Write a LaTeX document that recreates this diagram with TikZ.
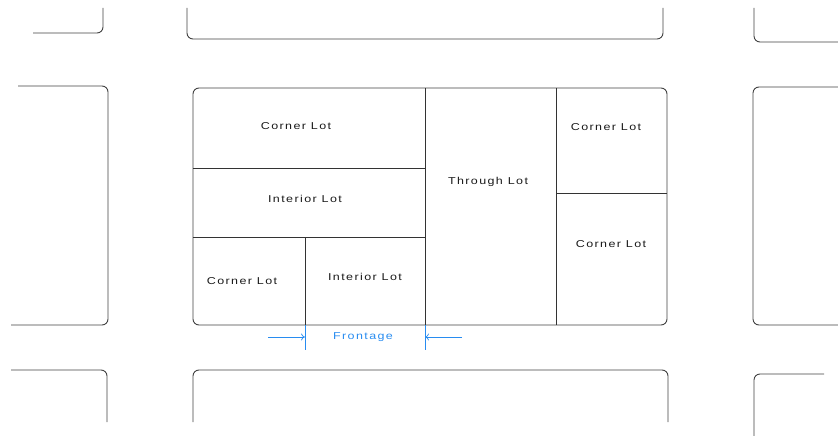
\documentclass[tikz,border=0pt]{standalone}
\usepackage{fontspec}
\usetikzlibrary{arrows.meta}
\setmainfont{Liberation Sans}[FakeStretch=1.25,LetterSpace=14]
\definecolor{dimblue}{RGB}{40,140,240}
\begin{document}
\begin{tikzpicture}[x=1pt,y=-1pt,
  street/.style={draw=black!75,line width=0.9pt,rounded corners=6pt},
  lotline/.style={draw=black!80,line width=0.9pt},
  lotlabel/.style={font=\fontsize{10}{12}\selectfont,text=black!90,inner sep=0pt},
  dim/.style={draw=dimblue,line width=0.7pt},
  dimlabel/.style={font=\fontsize{10}{12}\selectfont,text=dimblue,inner sep=0pt}]
\useasboundingbox (0,0) rectangle (838,436);
% surrounding blocks
\draw[street] (103,8) -- (103,33) -- (33,33);
\draw[street] (187,8) -- (187,39) -- (663,39) -- (663,8);
\draw[street] (754,8) -- (754,42) -- (838,42);
\draw[street] (18,86) -- (108,86) -- (108,325) -- (11,325);
\draw[street] (838,87) -- (753,87) -- (753,325) -- (838,325);
\draw[street] (11,370) -- (107,370) -- (107,422);
\draw[street] (193,422) -- (193,370) -- (668,370) -- (668,422);
\draw[street] (824,374) -- (754,374) -- (754,436);
% main block
\draw[street] (193,88) rectangle (667,325);
\draw[lotline] (425,88) -- (425,325);
\draw[lotline] (193,168) -- (425,168);
\draw[lotline] (193,237) -- (425,237);
\draw[lotline] (305,237) -- (305,325);
\draw[lotline] (556,88) -- (556,325);
\draw[lotline] (556,193) -- (667,193);
% labels
\node[lotlabel] (c1) at (296,126) {Corner Lot};
\node[lotlabel] (i1) at (305,199) {Interior Lot};
\node[lotlabel] (t1) at (488,182) {Through Lot};
\node[lotlabel] (c2) at (606,127) {Corner Lot};
\node[lotlabel] (c3) at (611,244) {Corner Lot};
\node[lotlabel] (c4) at (242,281) {Corner Lot};
\node[lotlabel] (i2) at (365,277) {Interior Lot};
% frontage
\coordinate (fl) at (305,325);
\coordinate (fr) at (425,325);
\draw[dim] (fl) -- ++(0,25);
\draw[dim] (fr) -- ++(0,25);
\coordinate (al) at (268,337);
\coordinate (ar) at (462,337);
\coordinate (alt) at (305,337);
\coordinate (art) at (425,337);
\draw[dim,-{To[length=4pt,width=7pt]}] (al) -- (alt);
\draw[dim,-{To[length=4pt,width=7pt]}] (ar) -- (art);
\node[dimlabel] (ft) at (363,337) {Frontage};
\end{tikzpicture}
\end{document}
